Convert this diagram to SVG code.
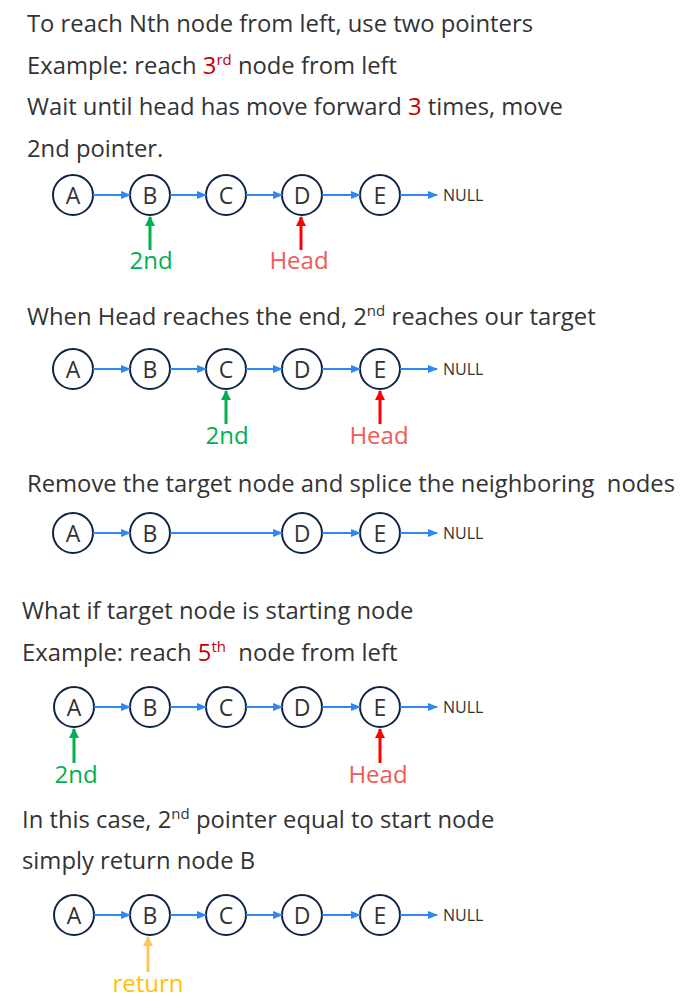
<svg xmlns="http://www.w3.org/2000/svg" width="700" height="1008" viewBox="0 0 700 1008">
<style>
.t{font-family:"Open Sans","Noto Sans","DejaVu Sans",sans-serif;font-size:23.8px;fill:#333333;white-space:pre}
.sup{font-size:15px}
.red{fill:#C00000}
.n circle{fill:#ffffff;stroke:#0F2444;stroke-width:2}
.n text{font-family:"Open Sans","Noto Sans",sans-serif;font-size:23px;fill:#333333;text-anchor:middle}
.null{font-family:"Open Sans","Noto Sans",sans-serif;font-size:16px;fill:#333333}
.c line{stroke:#2E87F2;stroke-width:2;marker-end:url(#ab)}
.p line{stroke-width:3}
.p line.pg{stroke:#00B050;marker-end:url(#ag)}
.p line.pr{stroke:#FF0000;marker-end:url(#ar)}
.p line.py{stroke:#FFC55A;marker-end:url(#ay)}
.lg{font-family:"Open Sans","Noto Sans",sans-serif;font-size:24px;fill:#00B050;text-anchor:middle}
.lr{font-family:"Open Sans","Noto Sans",sans-serif;font-size:24px;fill:#EE5A57;text-anchor:middle}
.ly{font-family:"Open Sans","Noto Sans",sans-serif;font-size:24px;fill:#FFC000;text-anchor:middle}
</style>
<defs>
<marker id="ab" markerWidth="10" markerHeight="8" refX="9" refY="4" orient="auto" markerUnits="userSpaceOnUse"><path d="M0,0 L10,4 L0,8 Z" fill="#2E87F2"/></marker>
<marker id="ag" markerWidth="10" markerHeight="10" refX="9" refY="5" orient="auto" markerUnits="userSpaceOnUse"><path d="M0,0 L10,5 L0,10 Z" fill="#00B050"/></marker>
<marker id="ar" markerWidth="10" markerHeight="10" refX="9" refY="5" orient="auto" markerUnits="userSpaceOnUse"><path d="M0,0 L10,5 L0,10 Z" fill="#FF0000"/></marker>
<marker id="ay" markerWidth="10" markerHeight="10" refX="9" refY="5" orient="auto" markerUnits="userSpaceOnUse"><path d="M0,0 L10,5 L0,10 Z" fill="#FFC55A"/></marker>
</defs>
<rect width="700" height="1008" fill="#ffffff"/>

<g id="texts">
<text class="t" x="27" y="32">To reach Nth node from left, use two pointers</text>
<text class="t" x="27" y="74">Example: reach <tspan class="red">3</tspan><tspan class="sup red" dy="-9">rd</tspan><tspan dy="9"> node from left</tspan></text>
<text class="t" x="27" y="115">Wait until head has move forward <tspan class="red">3</tspan> times, move</text>
<text class="t" x="27" y="157">2nd pointer.</text>
<text class="t" x="27" y="325">When Head reaches the end, 2<tspan class="sup" dy="-9">nd</tspan><tspan dy="9"> reaches our target</tspan></text>
<text class="t" x="27" y="492">Remove the target node and splice the neighboring  nodes</text>
<text class="t" x="22" y="619">What if target node is starting node</text>
<text class="t" x="22" y="661">Example: reach <tspan class="red">5</tspan><tspan class="sup red" dy="-9">th</tspan><tspan dy="9">  node from left</tspan></text>
<text class="t" x="22" y="828">In this case, 2<tspan class="sup" dy="-9">nd</tspan><tspan dy="9"> pointer equal to start node</tspan></text>
<text class="t" x="22" y="869">simply return node B</text>
</g>

<!-- Row 1 -->
<g id="r1-A" class="n"><circle cx="73" cy="195" r="20"/><text x="73" y="204">A</text></g>
<g id="r1-B" class="n"><circle cx="150" cy="195" r="20"/><text x="150" y="204">B</text></g>
<g id="r1-C" class="n"><circle cx="226" cy="195" r="20"/><text x="226" y="204">C</text></g>
<g id="r1-D" class="n"><circle cx="302" cy="195" r="20"/><text x="302" y="204">D</text></g>
<g id="r1-E" class="n"><circle cx="380" cy="195" r="20"/><text x="380" y="204">E</text></g>
<text id="r1-null" class="null" x="443" y="201">NULL</text>

<!-- Row 2 -->
<g id="r2-A" class="n"><circle cx="73" cy="369" r="20"/><text x="73" y="378">A</text></g>
<g id="r2-B" class="n"><circle cx="150" cy="369" r="20"/><text x="150" y="378">B</text></g>
<g id="r2-C" class="n"><circle cx="226" cy="369" r="20"/><text x="226" y="378">C</text></g>
<g id="r2-D" class="n"><circle cx="302" cy="369" r="20"/><text x="302" y="378">D</text></g>
<g id="r2-E" class="n"><circle cx="380" cy="369" r="20"/><text x="380" y="378">E</text></g>
<text id="r2-null" class="null" x="443" y="375">NULL</text>

<!-- Row 3 -->
<g id="r3-A" class="n"><circle cx="73" cy="533" r="20"/><text x="73" y="542">A</text></g>
<g id="r3-B" class="n"><circle cx="150" cy="533" r="20"/><text x="150" y="542">B</text></g>
<g id="r3-D" class="n"><circle cx="302" cy="533" r="20"/><text x="302" y="542">D</text></g>
<g id="r3-E" class="n"><circle cx="380" cy="533" r="20"/><text x="380" y="542">E</text></g>
<text id="r3-null" class="null" x="443" y="539">NULL</text>

<!-- Row 4 -->
<g id="r4-A" class="n"><circle cx="74" cy="707" r="20"/><text x="74" y="716">A</text></g>
<g id="r4-B" class="n"><circle cx="150" cy="707" r="20"/><text x="150" y="716">B</text></g>
<g id="r4-C" class="n"><circle cx="226" cy="707" r="20"/><text x="226" y="716">C</text></g>
<g id="r4-D" class="n"><circle cx="302" cy="707" r="20"/><text x="302" y="716">D</text></g>
<g id="r4-E" class="n"><circle cx="380" cy="707" r="20"/><text x="380" y="716">E</text></g>
<text id="r4-null" class="null" x="443" y="713">NULL</text>

<!-- Row 5 -->
<g id="r5-A" class="n"><circle cx="74" cy="915" r="20"/><text x="74" y="924">A</text></g>
<g id="r5-B" class="n"><circle cx="150" cy="915" r="20"/><text x="150" y="924">B</text></g>
<g id="r5-C" class="n"><circle cx="226" cy="915" r="20"/><text x="226" y="924">C</text></g>
<g id="r5-D" class="n"><circle cx="302" cy="915" r="20"/><text x="302" y="924">D</text></g>
<g id="r5-E" class="n"><circle cx="380" cy="915" r="20"/><text x="380" y="924">E</text></g>
<text id="r5-null" class="null" x="443" y="921">NULL</text>

<g id="connectors">
<g class="c">
<line x1="93" y1="195" x2="130" y2="195"/>
<line x1="170" y1="195" x2="206" y2="195"/>
<line x1="246" y1="195" x2="282" y2="195"/>
<line x1="322" y1="195" x2="360" y2="195"/>
<line x1="400" y1="195" x2="437" y2="195"/>

<line x1="93" y1="369" x2="130" y2="369"/>
<line x1="170" y1="369" x2="206" y2="369"/>
<line x1="246" y1="369" x2="282" y2="369"/>
<line x1="322" y1="369" x2="360" y2="369"/>
<line x1="400" y1="369" x2="437" y2="369"/>

<line x1="93" y1="533" x2="130" y2="533"/>
<line x1="170" y1="533" x2="282" y2="533"/>
<line x1="322" y1="533" x2="360" y2="533"/>
<line x1="400" y1="533" x2="437" y2="533"/>

<line x1="94" y1="707" x2="130" y2="707"/>
<line x1="170" y1="707" x2="206" y2="707"/>
<line x1="246" y1="707" x2="282" y2="707"/>
<line x1="322" y1="707" x2="360" y2="707"/>
<line x1="400" y1="707" x2="437" y2="707"/>

<line x1="94" y1="915" x2="130" y2="915"/>
<line x1="170" y1="915" x2="206" y2="915"/>
<line x1="246" y1="915" x2="282" y2="915"/>
<line x1="322" y1="915" x2="360" y2="915"/>
<line x1="400" y1="915" x2="437" y2="915"/>
</g>
<g class="p">
<line class="pg" x1="150" y1="250" x2="150" y2="217"/>
<line class="pr" x1="301" y1="250" x2="301" y2="217"/>
<line class="pg" x1="226" y1="424" x2="226" y2="391"/>
<line class="pr" x1="380" y1="424" x2="380" y2="391"/>
<line class="pg" x1="74" y1="763" x2="74" y2="729"/>
<line class="pr" x1="380" y1="763" x2="380" y2="729"/>
<line class="py" x1="148" y1="972" x2="148" y2="937"/>
</g>
</g>

<g id="labels">
<text class="lg" x="151" y="269">2nd</text>
<text class="lr" x="299" y="269">Head</text>
<text class="lg" x="227" y="444">2nd</text>
<text class="lr" x="379" y="444">Head</text>
<text class="lg" x="76" y="783">2nd</text>
<text class="lr" x="378" y="783">Head</text>
<text class="ly" x="148" y="992">return</text>
</g>
</svg>
